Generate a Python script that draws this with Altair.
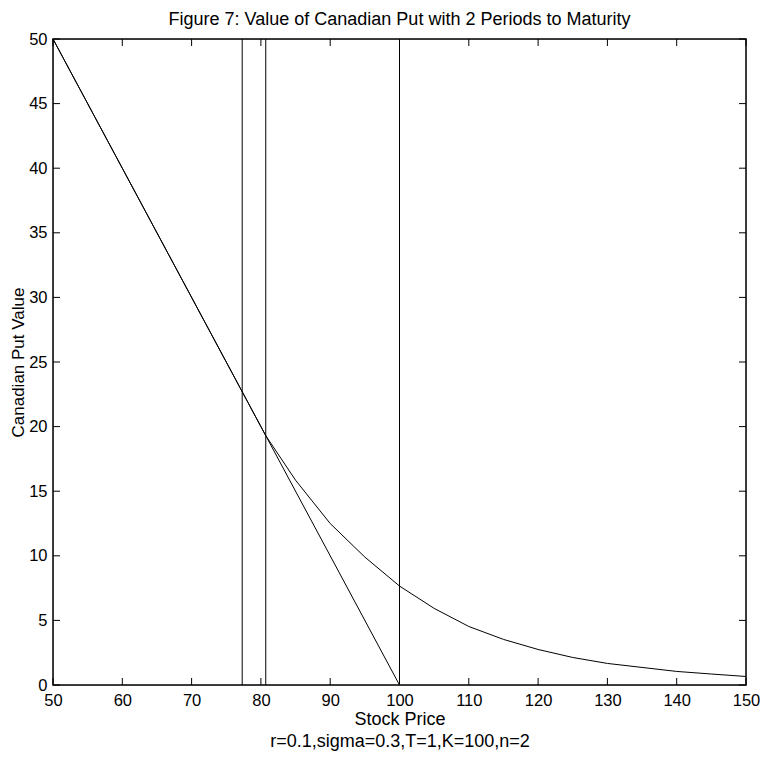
import altair as alt
import pandas as pd

# data
payoff_s = [50, 100]
payoff_v = [50, 0]

curve_s = [50, 55, 60, 65, 70, 75, 80.7, 85, 90, 95, 100, 105, 110, 115, 120, 125, 130, 135, 140, 145, 150]
curve_v = [50, 45, 40, 35, 30, 25, 19.3, 15.85, 12.5, 9.9, 7.66, 5.93, 4.53, 3.53, 2.75, 2.13, 1.67, 1.36, 1.05, 0.85, 0.66]

critical_s = [77.3, 80.7, 100]

x_ticks = [50, 60, 70, 80, 90, 100, 110, 120, 130, 140, 150]
y_ticks = [0, 5, 10, 15, 20, 25, 30, 35, 40, 45, 50]

W, H = 693, 646
TL = 7
FONT = "Liberation Sans"

payoff_df = pd.DataFrame({"S": payoff_s, "V": payoff_v})
curve_df = pd.DataFrame({"S": curve_s, "V": curve_v})
crit_df = pd.DataFrame({"S": critical_s, "lo": [0] * len(critical_s), "hi": [50] * len(critical_s)})
xt_df = pd.DataFrame({"t": x_ticks})
yt_df = pd.DataFrame({"t": y_ticks})
box_df = pd.DataFrame({"k": [0]})

xscale = alt.Scale(domain=[50, 150], nice=False, zero=False)
yscale = alt.Scale(domain=[0, 50], nice=False)

xaxis = alt.Axis(values=x_ticks, ticks=False, domain=False, grid=False, labelFontSize=16.5,
                 labelFont=FONT, labelPadding=7, labelColor="black",
                 title=["Stock Price", "r=0.1,sigma=0.3,T=1,K=100,n=2"],
                 titleFont=FONT, titleFontSize=18, titleFontWeight="normal", titleColor="black",
                 titlePadding=2, titleLineHeight=22, labelFlush=False)
yaxis = alt.Axis(values=y_ticks, ticks=False, domain=False, grid=False, labelFontSize=16.5,
                 labelFont=FONT, labelPadding=6, labelColor="black",
                 title="Canadian Put Value", titleFont=FONT, titleFontSize=17,
                 titleFontWeight="normal", titleColor="black", titlePadding=1, labelFlush=False)

payoff = alt.Chart(payoff_df).mark_line(color="black", strokeWidth=1).encode(
    x=alt.X("S:Q", scale=xscale, axis=xaxis),
    y=alt.Y("V:Q", scale=yscale, axis=yaxis),
)
curve = alt.Chart(curve_df).mark_line(color="black", strokeWidth=1).encode(
    x=alt.X("S:Q", scale=xscale), y=alt.Y("V:Q", scale=yscale))
crit = alt.Chart(crit_df).mark_rule(color="black", strokeWidth=1).encode(
    x=alt.X("S:Q", scale=xscale), y=alt.Y("lo:Q", scale=yscale), y2="hi:Q")

xt_bottom = alt.Chart(xt_df).mark_rule(color="black", strokeWidth=1).encode(
    x=alt.X("t:Q", scale=xscale), y=alt.value(H), y2=alt.value(H - TL))
xt_top = alt.Chart(xt_df).mark_rule(color="black", strokeWidth=1).encode(
    x=alt.X("t:Q", scale=xscale), y=alt.value(0), y2=alt.value(TL))
yt_left = alt.Chart(yt_df).mark_rule(color="black", strokeWidth=1).encode(
    y=alt.Y("t:Q", scale=yscale), x=alt.value(0), x2=alt.value(TL))
yt_right = alt.Chart(yt_df).mark_rule(color="black", strokeWidth=1).encode(
    y=alt.Y("t:Q", scale=yscale), x=alt.value(W), x2=alt.value(W - TL))
box = alt.Chart(box_df).mark_rect(fill=None, stroke="black", strokeWidth=1.5).encode(
    x=alt.value(0), x2=alt.value(W), y=alt.value(0), y2=alt.value(H))

chart = alt.layer(payoff, curve, crit, xt_bottom, xt_top, yt_left, yt_right, box).properties(
    width=W, height=H,
    title=alt.TitleParams("Figure 7: Value of Canadian Put with 2 Periods to Maturity",
                          font=FONT, fontSize=18, fontWeight="normal", color="black",
                          anchor="middle", offset=2),
    autosize=alt.AutoSizeParams(type="none"),
    padding={"left": 45, "top": 31, "right": 16, "bottom": 77},
).configure_view(stroke=None).configure(background="white")

chart.save("out.html", embed_options={"renderer": "svg", "actions": False})
